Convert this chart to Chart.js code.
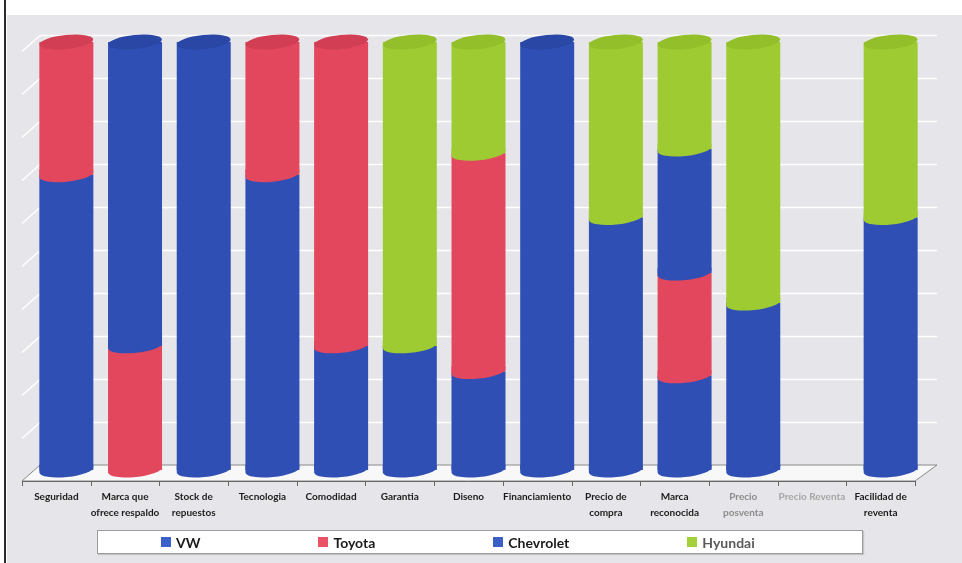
<!DOCTYPE html>
<html><head><meta charset="utf-8">
<script src="https://cdn.jsdelivr.net/npm/chart.js@4.4.1/dist/chart.umd.min.js"></script>
<style>
html,body{margin:0;padding:0;background:#fff;}
#wrap{position:relative;width:962px;height:563px;overflow:hidden;}
#c{position:absolute;left:0;top:0;}
#legend{position:absolute;left:97px;top:530px;width:766px;height:24px;background:#fff;border:1px solid #9c9c9c;box-shadow:1px 1px 1px #c4c4c4;display:flex;align-items:center;padding-left:63px;box-sizing:border-box;gap:118px;font:bold 14px Lato, sans-serif;color:#1a1a1a;}
.item{display:flex;align-items:center;white-space:nowrap;}
.sw{width:10px;height:10px;margin-right:5px;display:inline-block;}
</style></head><body>
<div id="wrap"><canvas id="c" width="962" height="563"></canvas><div id="legend"></div></div>
<script>
const categories = [["Seguridad"], ["Marca que", "ofrece respaldo"], ["Stock de", "repuestos"], ["Tecnologia"], ["Comodidad"], ["Garantia"], ["Diseno"], ["Financiamiento"], ["Precio de", "compra"], ["Marca", "reconocida"], ["Precio", "posventa"], ["Precio Reventa"], ["Facilidad de", "reventa"]];
const seriesNames = ["VW", "Toyota", "Chevrolet", "Hyundai"];
const vw        = [69, 0, 0, 69, 29, 29, 23, 0, 59, 22, 39, 0, 59];
const toyota    = [31, 29, 0, 31, 71, 0, 51, 0, 0, 24, 0, 0, 0];
const chevrolet = [0, 71, 100, 0, 0, 0, 0, 100, 0, 29, 0, 0, 0];
const hyundai   = [0, 0, 0, 0, 0, 71, 26, 0, 41, 25, 61, 0, 41];
const yTicks = [0, 10, 20, 30, 40, 50, 60, 70, 80, 90, 100];

const colors = ["#2f4fb5", "#e2475d", "#2f4fb5", "#9ecb31"];
const capColors = ["#2a47a6", "#d23f55", "#2a47a6", "#92bf2a"];
const legendColors = ["#3b5fcb", "#ea5366", "#3b5fc4", "#a4d03a"];

const SHIFT = 10;
const RY = 7;
const ROT = -0.1;

const cylPlugin = {
  id: 'cyl',
  beforeDraw(chart) {
    const ctx = chart.ctx, W = chart.width, H = chart.height;
    const y = chart.scales.y, ca = chart.chartArea;
    ctx.save();
    ctx.fillStyle = '#ffffff'; ctx.fillRect(0, 0, W, H);
    ctx.fillStyle = '#e6e6ea'; ctx.fillRect(7, 15, W - 7, H - 15);
    ctx.fillStyle = '#2b2b2b'; ctx.fillRect(4, 0, 2, H);
    const bl = ca.left + 18, br = ca.right + 22;
    const back = v => y.getPixelForValue(v) - 5 - v * 0.02;
    const fb = back(0), ff = ca.bottom + 11;
    ctx.beginPath();
    ctx.moveTo(ca.left, ff); ctx.lineTo(ca.right, ff); ctx.lineTo(br, fb); ctx.lineTo(bl, fb); ctx.closePath();
    ctx.fillStyle = '#f8f8f8'; ctx.fill();
    ctx.strokeStyle = '#8a8a8a'; ctx.lineWidth = 1; ctx.stroke();
    ctx.strokeStyle = '#ffffff'; ctx.lineWidth = 1.5;
    yTicks.forEach(v => {
      if (v === 0) return;
      const py = Math.round(back(v)) + 0.5;
      ctx.beginPath(); ctx.moveTo(bl, py); ctx.lineTo(br, py); ctx.stroke();
      ctx.beginPath(); ctx.moveTo(bl, py); ctx.lineTo(ca.left, py + (ff - fb)); ctx.stroke();
    });
    ctx.strokeStyle = '#666'; ctx.lineWidth = 1;
    ctx.beginPath(); ctx.moveTo(ca.left, Math.round(ff) + 0.5); ctx.lineTo(ca.right, Math.round(ff) + 0.5); ctx.stroke();
    const n = categories.length, step = (ca.right - ca.left) / n;
    for (let i = 0; i <= n; i++) {
      const px = Math.round(ca.left + i * step) + 0.5;
      ctx.beginPath(); ctx.moveTo(px, ff); ctx.lineTo(px, ff + 5); ctx.stroke();
    }
    ctx.restore();
  },
  beforeDatasetsDraw(chart) {
    chart.ctx.save();
    chart.ctx.translate(SHIFT, 0);
  },
  afterDatasetsDraw(chart) {
    const ctx = chart.ctx;
    const n = categories.length;
    for (let i = 0; i < n; i++) {
      const segs = [];
      chart.data.datasets.forEach((ds, di) => {
        if (ds.data[i] > 0) segs.push({el: chart.getDatasetMeta(di).data[i], di});
      });
      if (!segs.length) continue;
      segs.sort((a, b) => b.el.base - a.el.base);
      segs.forEach(s => {
        const el = s.el, hw = el.width / 2;
        ctx.beginPath();
        ctx.moveTo(el.x - hw, el.base - 5);
        ctx.lineTo(el.x + hw, el.base - 5);
        ctx.ellipse(el.x, el.base, hw, RY, ROT, 0, Math.PI);
        ctx.lineTo(el.x - hw, el.base + 3);
        ctx.closePath();
        ctx.fillStyle = colors[s.di]; ctx.fill();
      });
      const top = segs[segs.length - 1];
      ctx.beginPath();
      ctx.ellipse(top.el.x, top.el.y, top.el.width / 2, RY, ROT, 0, Math.PI * 2);
      ctx.fillStyle = capColors[top.di]; ctx.fill();
    }
    ctx.restore();
  }
};

const seriesData = [vw, toyota, chevrolet, hyundai];
const datasets = seriesNames.map((name, k) => ({
  label: name,
  data: seriesData[k],
  backgroundColor: colors[k],
  borderWidth: 0,
  barPercentage: 0.786,
  categoryPercentage: 1.0
}));

const chart = new Chart(document.getElementById('c'), {
  type: 'bar',
  data: { labels: categories, datasets },
  options: {
    responsive: false,
    animation: false,
    devicePixelRatio: 1,
    layout: { padding: { left: 22, right: 47, top: 42, bottom: 23 } },
    plugins: { legend: { display: false }, tooltip: { enabled: false } },
    scales: {
      x: {
        stacked: true,
        grid: { display: false, drawTicks: false },
        border: { display: false },
        ticks: {
          autoSkip: false, maxRotation: 0, minRotation: 0, padding: 19,
          font: { family: 'Lato, sans-serif', size: 10, weight: 'bold', lineHeight: 1.6 },
          color: c => c.index === 10 ? '#8c8c8c' : (c.index === 11 ? '#a6a6a6' : '#1c1c1c')
        }
      },
      y: { stacked: true, min: 0, max: 100, display: false, ticks: { stepSize: 10 } }
    }
  },
  plugins: [cylPlugin]
});

const lg = document.getElementById('legend');
chart.data.datasets.forEach((ds, k) => {
  const it = document.createElement('div'); it.className = 'item';
  const sw = document.createElement('span'); sw.className = 'sw'; sw.style.background = legendColors[k];
  const tx = document.createElement('span'); tx.textContent = ds.label;
  if (k === 3) tx.style.color = '#5a5a5a';
  it.appendChild(sw); it.appendChild(tx); lg.appendChild(it);
});
</script>
</body></html>
